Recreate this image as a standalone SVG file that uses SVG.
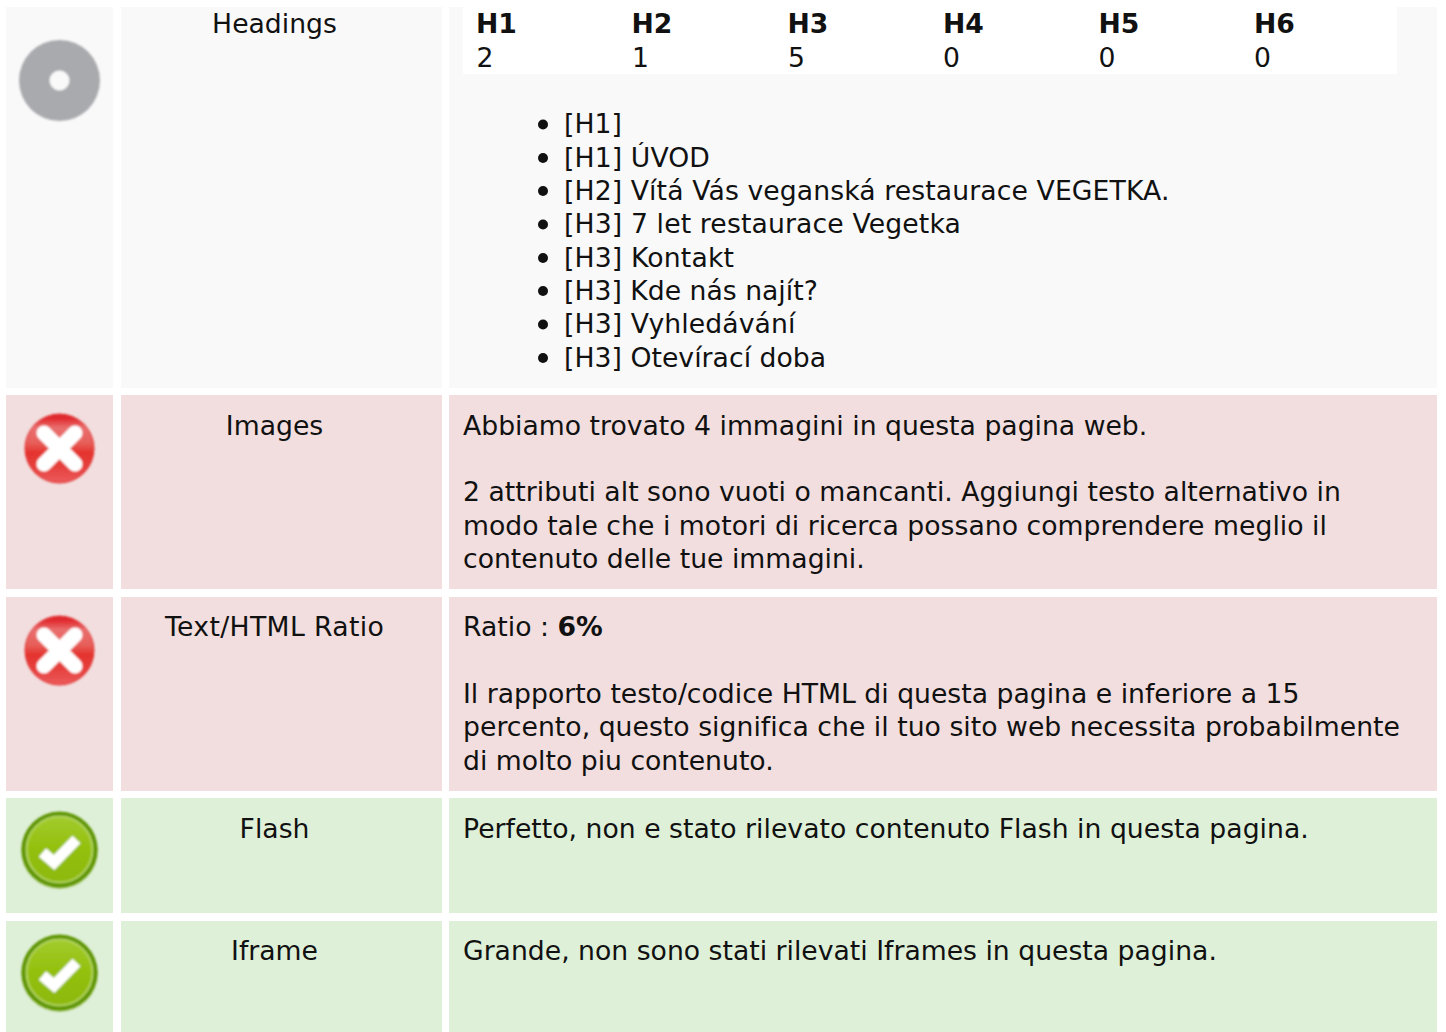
<svg xmlns="http://www.w3.org/2000/svg" width="1446" height="1032" viewBox="0 0 1446 1032">
<style>
text{font-family:"DejaVu Sans",sans-serif;font-size:26.67px;fill:#111}
.c{text-anchor:middle}
.b{font-weight:700}
.g{fill:#f9f9f9}.r{fill:#f2dede}.o{fill:#dff0d8}
.d{fill:#111}
</style>
<defs>
<filter id="soft" x="-10%" y="-10%" width="120%" height="120%"><feGaussianBlur stdDeviation="0.8"/></filter>
<linearGradient id="rg" x1="0" y1="0" x2="0" y2="1"><stop offset="0" stop-color="#de2226"/><stop offset="0.08" stop-color="#e23236"/><stop offset="0.2" stop-color="#e96f6f"/><stop offset="0.42" stop-color="#e75f5a"/><stop offset="0.56" stop-color="#e4342e"/><stop offset="0.78" stop-color="#e6413f"/><stop offset="1" stop-color="#ec5c5c"/></linearGradient>
<linearGradient id="gg" x1="0" y1="0" x2="0" y2="1"><stop offset="0" stop-color="#a2cb2e"/><stop offset="0.5" stop-color="#93c00c"/><stop offset="1" stop-color="#8cb908"/></linearGradient>
<g id="err" filter="url(#soft)"><circle r="34.500" fill="url(#rg)" stroke="#e02a2c" stroke-width="1"/><path d="M-15.500 -15.500L15.500 15.500M15.500 -15.500L-15.500 15.500" stroke="#fff" stroke-width="15" stroke-linecap="round" fill="none"/></g>
<g id="ok" filter="url(#soft)"><circle r="38.500" cy="1" fill="#6a9c10" opacity="0.45"/><circle r="38" fill="#5d9400"/><circle r="33" fill="url(#gg)" stroke="#b4d65c" stroke-width="2"/><path d="M-17 3L-5.500 13L17 -10" stroke="#fff" stroke-width="11" stroke-linecap="butt" fill="none"/></g>
</defs>
<rect width="1446" height="1032" fill="#fff"/>
<g id="row-headings">
<rect class="g" x="6" y="7" width="107" height="381"/><rect class="g" x="121" y="7" width="321" height="381"/><rect class="g" x="449" y="7" width="988" height="381"/>
<g id="icon-neutral" filter="url(#soft)"><circle cx="59.500" cy="80.500" r="40.500" fill="#a9aaae"/><circle cx="59.500" cy="80.500" r="10" fill="#f9f9f9"/></g>
<text class="c" x="274.500" y="33">Headings</text>
<rect x="463" y="7" width="934" height="67" fill="#fff"/>
<text class="b" x="476" y="33">H1</text><text class="b" x="631.500" y="33">H2</text><text class="b" x="787.500" y="33">H3</text><text class="b" x="943" y="33">H4</text><text class="b" x="1098.500" y="33">H5</text><text class="b" x="1254" y="33">H6</text>
<text x="476.500" y="67">2</text><text x="632" y="67">1</text><text x="788" y="67">5</text><text x="943" y="67">0</text><text x="1098.500" y="67">0</text><text x="1254" y="67">0</text>
<g class="d"><circle cx="543" cy="124.500" r="5"/><circle cx="543" cy="158" r="5"/><circle cx="543" cy="191" r="5"/><circle cx="543" cy="224.500" r="5"/><circle cx="543" cy="258" r="5"/><circle cx="543" cy="291" r="5"/><circle cx="543" cy="324.500" r="5"/><circle cx="543" cy="358" r="5"/></g>
<text x="564" y="133">[H1]</text>
<text x="564" y="167" letter-spacing="0.1">[H1] ÚVOD</text>
<text x="564" y="200" letter-spacing="0.1">[H2] Vítá Vás veganská restaurace VEGETKA.</text>
<text x="564" y="233" letter-spacing="0.13">[H3] 7 let restaurace Vegetka</text>
<text x="564" y="267" letter-spacing="0.15">[H3] Kontakt</text>
<text x="564" y="300">[H3] Kde nás najít?</text>
<text x="564" y="333" letter-spacing="0.1">[H3] Vyhledávání</text>
<text x="564" y="367" letter-spacing="0.03">[H3] Otevírací doba</text>
</g>
<g id="row-images">
<rect class="r" x="6" y="395" width="107" height="194"/><rect class="r" x="121" y="395" width="321" height="194"/><rect class="r" x="449" y="395" width="988" height="194"/>
<use href="#err" x="59.500" y="448.500"/>
<text class="c" x="274.500" y="435">Images</text>
<text x="463" y="435">Abbiamo trovato 4 immagini in questa pagina web.</text>
<text x="463" y="501" letter-spacing="0.015">2 attributi alt sono vuoti o mancanti. Aggiungi testo alternativo in</text>
<text x="463" y="535" letter-spacing="0.03">modo tale che i motori di ricerca possano comprendere meglio il</text>
<text x="463" y="568">contenuto delle tue immagini.</text>
</g>
<g id="row-ratio">
<rect class="r" x="6" y="597" width="107" height="194"/><rect class="r" x="121" y="597" width="321" height="194"/><rect class="r" x="449" y="597" width="988" height="194"/>
<use href="#err" x="59.500" y="650.500"/>
<text class="c" x="274.500" y="636" letter-spacing="0.35">Text/HTML Ratio</text>
<text x="463" y="636">Ratio : <tspan class="b">6%</tspan></text>
<text x="463" y="703">Il rapporto testo/codice HTML di questa pagina e inferiore a 15</text>
<text x="463" y="736" letter-spacing="0.03">percento, questo significa che il tuo sito web necessita probabilmente</text>
<text x="463" y="770">di molto piu contenuto.</text>
</g>
<g id="row-flash">
<rect class="o" x="6" y="798" width="107" height="115"/><rect class="o" x="121" y="798" width="321" height="115"/><rect class="o" x="449" y="798" width="988" height="115"/>
<use href="#ok" x="59.500" y="849.500"/>
<text class="c" x="274.500" y="838">Flash</text>
<text x="463" y="838" letter-spacing="0.015">Perfetto, non e stato rilevato contenuto Flash in questa pagina.</text>
</g>
<g id="row-iframe">
<rect class="o" x="6" y="921" width="107" height="111"/><rect class="o" x="121" y="921" width="321" height="111"/><rect class="o" x="449" y="921" width="988" height="111"/>
<use href="#ok" x="59.500" y="972.500"/>
<text class="c" x="274.500" y="960">Iframe</text>
<text x="463" y="960">Grande, non sono stati rilevati Iframes in questa pagina.</text>
</g>
<g id="connectors"/>
</svg>
